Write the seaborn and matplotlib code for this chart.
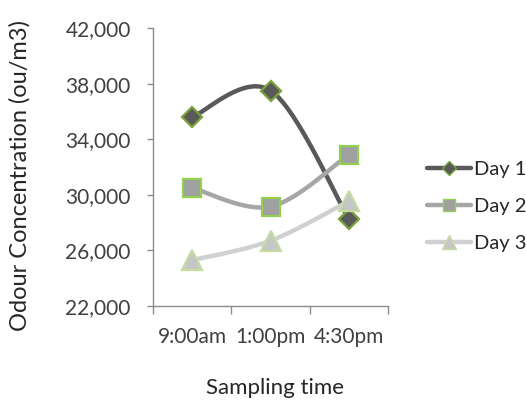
import numpy as np
import pandas as pd
import matplotlib
matplotlib.use("Agg")
import matplotlib.pyplot as plt
from matplotlib.ticker import FuncFormatter, FixedLocator
import seaborn as sns

times = ["9:00am", "1:00pm", "4:30pm"]
day1 = [35600, 37500, 28250]
day2 = [30500, 29150, 32900]
day3 = [25300, 26700, 29550]
series_names = ["Day 1", "Day 2", "Day 3"]

sns.set_theme(style="white")
plt.rcParams['font.family'] = ['Lato', 'DejaVu Sans']

fig = plt.figure(figsize=(5.26, 4.01), dpi=100)
ax = fig.add_axes([0.291, 0.237, 0.447, 0.693])

styles = {
    "Day 1": dict(line="#595959", face="#595959", edge="#77a33a", marker="D", ms=10),
    "Day 2": dict(line="#a6a6a6", face="#a0a0a0", edge="#92d050", marker="s", ms=12.5),
    "Day 3": dict(line="#d0d0d0", face="#c6c6c6", edge="#c4dca0", marker="^", ms=14),
}


def smooth(xs, ys, n=40):
    # Excel-style smoothed line (Catmull-Rom as cubic Bezier)
    P = np.column_stack([xs, ys]).astype(float)
    P_ext = np.vstack([P[0], P, P[-1]])
    out = []
    t = np.linspace(0, 1, n)[:, None]
    for i in range(len(P) - 1):
        p0, p1, p2, p3 = P_ext[i], P_ext[i + 1], P_ext[i + 2], P_ext[i + 3]
        c1 = p1 + (p2 - p0) / 6
        c2 = p2 - (p3 - p1) / 6
        seg = ((1 - t) ** 3) * p1 + 3 * ((1 - t) ** 2) * t * c1 + 3 * (1 - t) * t ** 2 * c2 + t ** 3 * p2
        out.append(seg if i == 0 else seg[1:])
    return np.vstack(out)

x = np.arange(len(times))
handles = []
for name, vals in zip(series_names, [day1, day2, day3]):
    st = styles[name]
    curve = smooth(x, vals)
    df = pd.DataFrame({"x": curve[:, 0], "y": curve[:, 1]})
    sns.lineplot(data=df, x="x", y="y", sort=False, ax=ax, color=st["line"], lw=3.2, zorder=2)
    ax.plot(x, vals, linestyle="none", marker=st["marker"], markersize=st["ms"],
            markerfacecolor=st["face"], markeredgecolor=st["edge"], markeredgewidth=1.6, zorder=3)
    h, = ax.plot([], [], color=st["line"], lw=3.2, marker=st["marker"], markersize=st["ms"] * 0.72,
                 markerfacecolor=st["face"], markeredgecolor=st["edge"], markeredgewidth=1.0)
    handles.append(h)

ax.set_xlim(-0.5, 2.5)
ax.set_ylim(22000, 42000)
ax.set_yticks(np.arange(22000, 42001, 4000))
ax.yaxis.set_major_formatter(FuncFormatter(lambda v, p: f"{int(v):,}"))
ax.set_xticks(x)
ax.set_xticklabels(times)
ax.xaxis.set_minor_locator(FixedLocator([-0.5, 0.5, 1.5, 2.5]))

for s in ["top", "right"]:
    ax.spines[s].set_visible(False)
for s in ["left", "bottom"]:
    ax.spines[s].set_color("#8c8c8c")
    ax.spines[s].set_linewidth(1.0)

ax.tick_params(axis="y", which="major", direction="out", length=4, color="#8c8c8c", width=1,
               labelsize=15, labelcolor="#404040", pad=12, left=True)
ax.tick_params(axis="x", which="major", length=0, labelsize=15, labelcolor="#404040", pad=15)
ax.tick_params(axis="x", which="minor", direction="out", length=6, color="#8c8c8c", width=1, bottom=True)

ax.set_xlabel("Sampling time", fontsize=16, color="#262626")
ax.xaxis.set_label_coords(0.52, -0.295)
ax.xaxis.label.set_va("center")
ax.set_ylabel("Odour Concentration (ou/m3)", fontsize=17, color="#262626")
ax.yaxis.set_label_coords(-0.566, 0.471)
ax.yaxis.label.set_va("center")

leg = fig.legend(handles, series_names, loc="center left", bbox_to_anchor=(0.789, 0.485),
                 frameon=False, fontsize=14.5, handlelength=2.2, labelspacing=1.0,
                 handletextpad=0.15, borderaxespad=0.2)
for t in leg.get_texts():
    t.set_color("#262626")

fig.savefig("out.png", dpi=100)
